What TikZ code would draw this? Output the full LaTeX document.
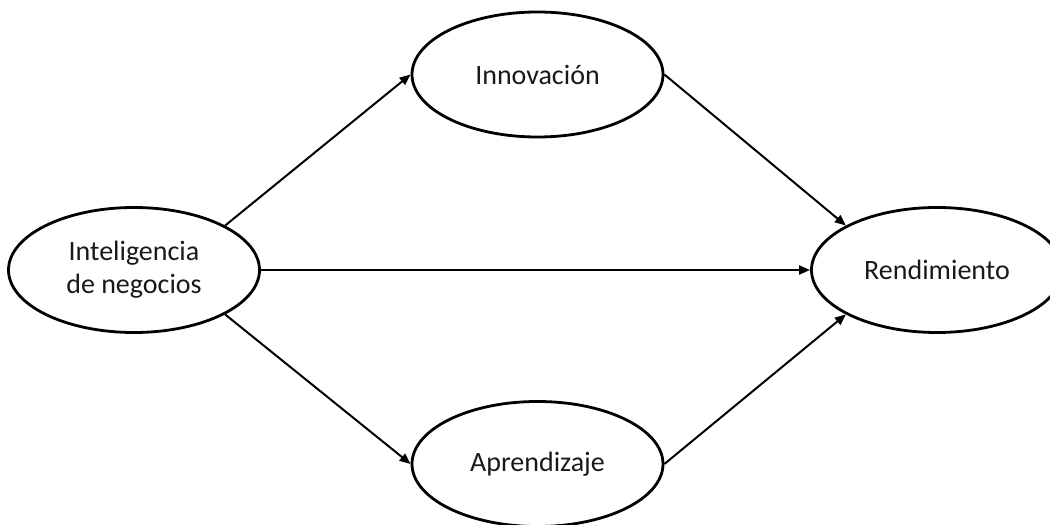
\documentclass[tikz,border=0pt]{standalone}
\usepackage{fontspec}
\setmainfont{Carlito}
\usetikzlibrary{shapes.geometric,arrows.meta}
\begin{document}
\begin{tikzpicture}[x=1pt,y=1pt,
  construct/.style={ellipse,draw=black,line width=2.8pt,fill=white,
    minimum width=251pt,minimum height=125pt,inner sep=0pt,
    align=center,font=\fontsize{28}{33}\selectfont,text=black!90},
  link/.style={line width=2pt,-{Triangle[length=11pt,width=9pt]}}]
  \useasboundingbox (0,0) rectangle (1050,525);
  \clip (0,0) rectangle (1050,525);
  \fill[white] (0,0) rectangle (1050,525);

  % constructs of the model
  \node[construct] (ie)  at (134,255)   {Inteligencia\\de negocios};
  \node[construct] (inn) at (537.5,450.5) {Innovación};
  \node[construct] (apr) at (537.5,61)  {Aprendizaje};
  \node[construct] (ren) at (937,255)   {Rendimiento};

  % hypothesised effects
  \draw[link] (ie.26)   -- (inn.west);
  \draw[link] (ie.east) -- (ren.west);
  \draw[link] (ie.-26)  -- (apr.west);
  \draw[link] (inn.east) -- (ren.154);
  \draw[link] (apr.east) -- (ren.-154);
\end{tikzpicture}
\end{document}
